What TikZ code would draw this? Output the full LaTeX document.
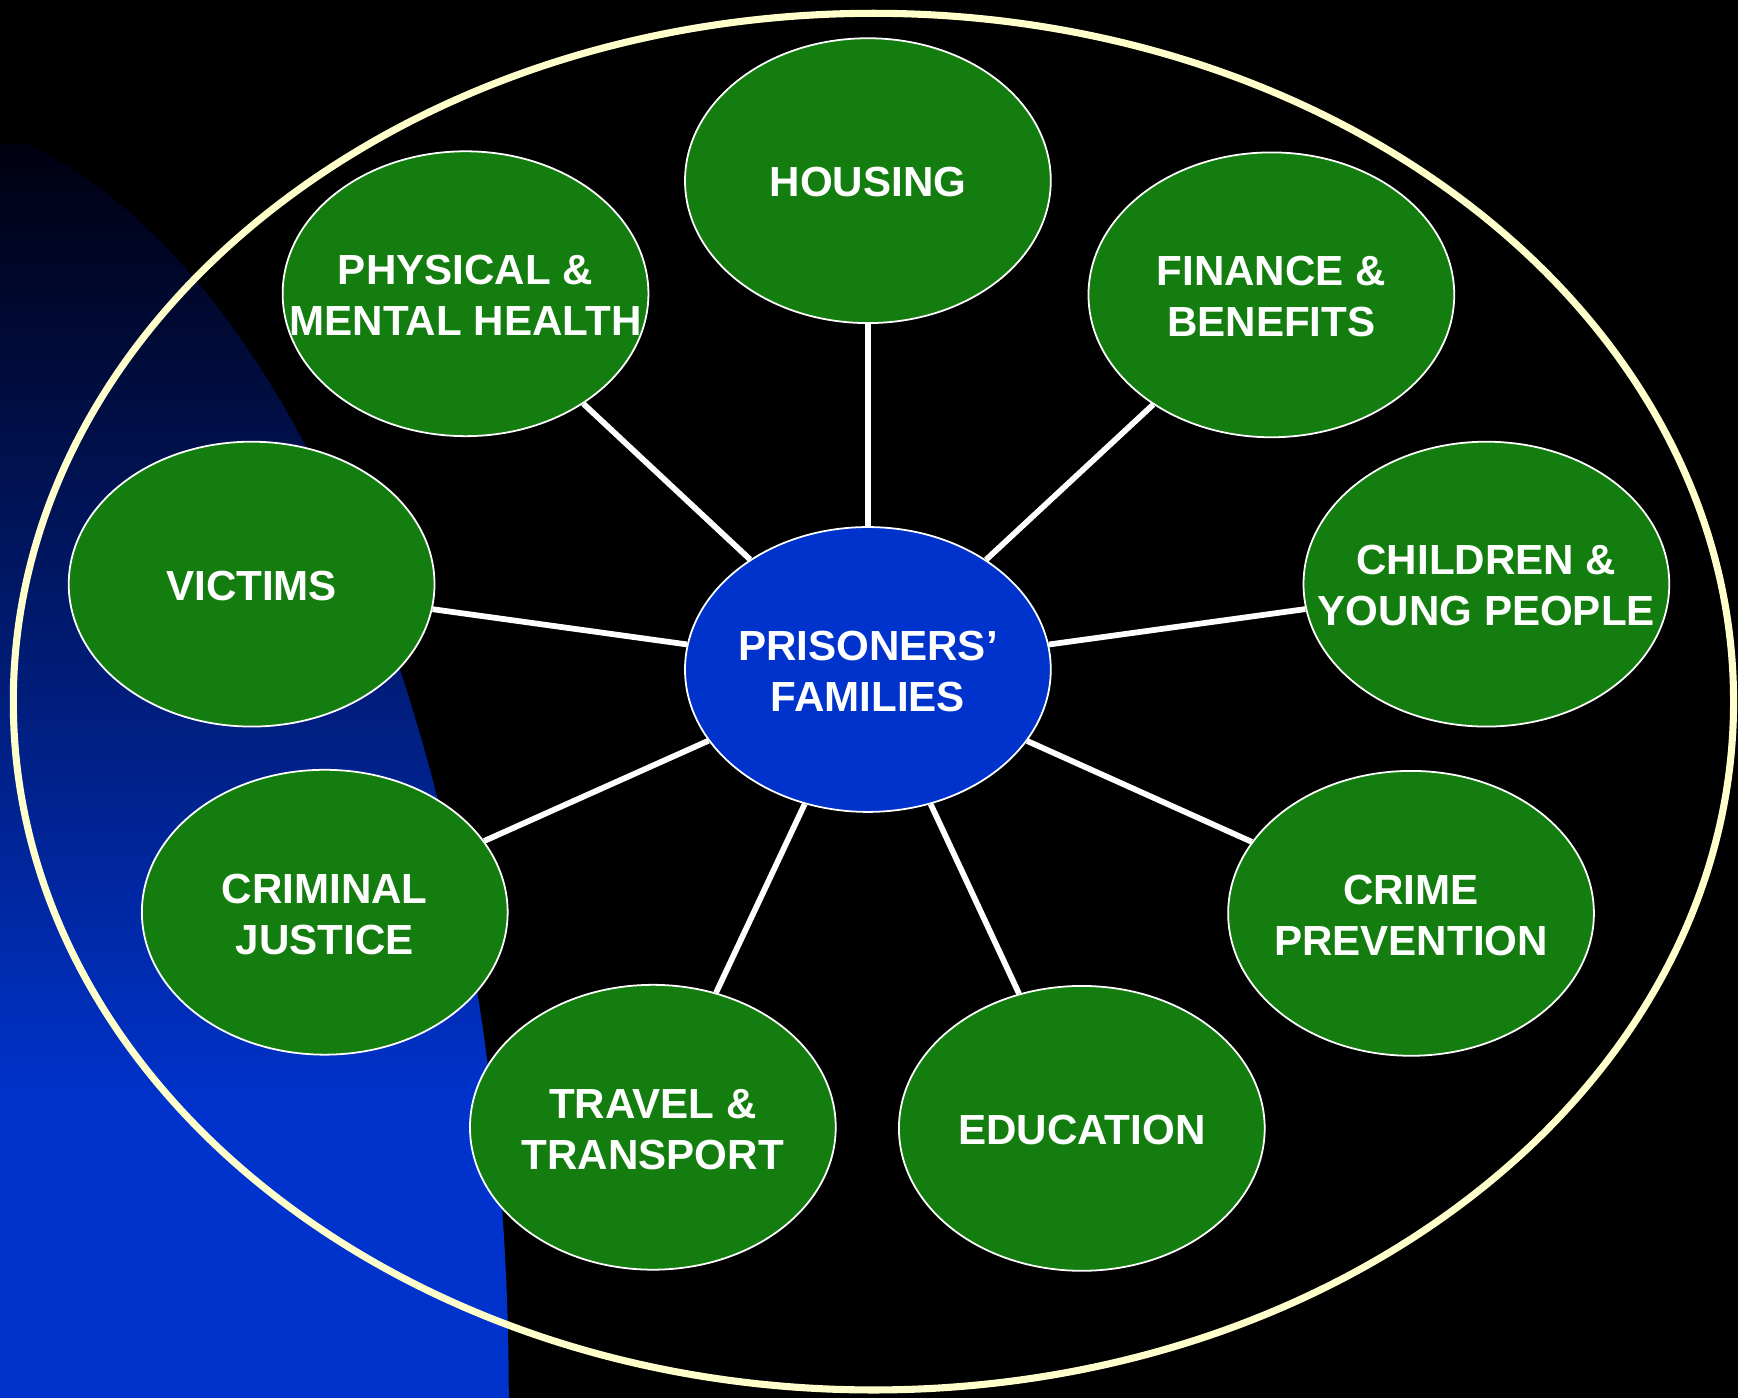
\documentclass[tikz,border=0pt]{standalone}
\usepackage{fontspec}
\setmainfont{Liberation Sans}
\usetikzlibrary{shapes.geometric}
\definecolor{topicgreen}{RGB}{20,125,15}
\definecolor{hubblue}{RGB}{0,51,204}
\definecolor{cream}{RGB}{255,255,204}
\definecolor{navytop}{RGB}{0,0,16}
\definecolor{brightblue}{RGB}{0,51,204}
\newcommand{\lbl}[1]{\raisebox{-2.75pt}[\height][\depth]{\makebox[0pt]{\begin{tabular}{@{}c@{}}#1\end{tabular}}}}
\begin{document}
\begin{tikzpicture}[x=0.5pt,y=-0.5pt,
  topic/.style={ellipse, draw=white, line width=0.8pt, fill=topicgreen,
    minimum width=165pt, minimum height=128.5pt, inner sep=0pt,
    text=white, font=\bfseries\fontsize{19}{23}\selectfont},
  hub/.style={topic, fill=hubblue},
  link/.style={draw=white, line width=2.6pt}]
\fill[black] (0,0) rectangle (1568,1261);
\useasboundingbox (0,0) rectangle (1568,1261);
% blue background blend
\begin{scope}
  \clip (0,0) rectangle (1568,1261);
  \clip (-100,1261) ellipse [x radius=559, y radius=1160];
  \shade[top color=navytop, bottom color=brightblue] (0,130) rectangle (480,1000);
  \fill[brightblue] (0,999) rectangle (480,1261);
\end{scope}
% outer ring
\draw[cream, line width=3.2pt] (788,633) ellipse [x radius=776, y radius=621];
% nodes
\node[hub] (pf) at (783,604) {\lbl{PRISONERS’\\FAMILIES}};
\node[topic] (housing) at (783,163) {\lbl{HOUSING}};
\node[topic] (health) at (420,265) {\lbl{PHYSICAL \&\\MENTAL HEALTH}};
\node[topic] (finance) at (1147,266) {\lbl{FINANCE \&\\BENEFITS}};
\node[topic] (victims) at (227,527) {\lbl{VICTIMS}};
\node[topic] (children) at (1341,527) {\lbl{CHILDREN \&\\YOUNG PEOPLE}};
\node[topic] (cj) at (293,823) {\lbl{CRIMINAL\\JUSTICE}};
\node[topic] (cp) at (1273,824) {\lbl{CRIME\\PREVENTION}};
\node[topic] (travel) at (589,1017) {\lbl{TRAVEL \&\\TRANSPORT}};
\node[topic] (edu) at (976,1018) {\lbl{EDUCATION}};
% connectors
\foreach \t in {housing,health,finance,victims,children,cj,cp,travel,edu}
  \draw[link] (pf) -- (\t);
\end{tikzpicture}
\end{document}
